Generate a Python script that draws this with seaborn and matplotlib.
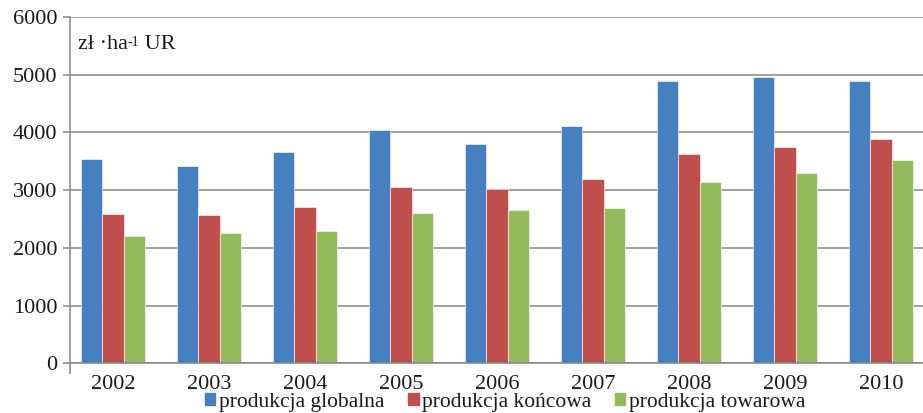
import matplotlib
matplotlib.use("Agg")
import matplotlib.pyplot as plt
import seaborn as sns
import pandas as pd

years = ["2002", "2003", "2004", "2005", "2006", "2007", "2008", "2009", "2010"]
globalna = [3540, 3420, 3670, 4050, 3800, 4110, 4890, 4960, 4890]
koncowa = [2590, 2570, 2710, 3060, 3020, 3190, 3620, 3745, 3880]
towarowa = [2210, 2260, 2300, 2610, 2660, 2690, 3140, 3290, 3525]
series_names = ["produkcja globalna", "produkcja końcowa", "produkcja towarowa"]
yticks = [0, 1000, 2000, 3000, 4000, 5000, 6000]

sns.set_theme(style="white")
plt.rcParams["font.family"] = ["Liberation Serif", "DejaVu Serif"]

df = pd.DataFrame({
    "rok": years * 3,
    "wartosc": globalna + koncowa + towarowa,
    "seria": [s for s in series_names for _ in years],
})

palette = {series_names[0]: "#4780C0", series_names[1]: "#BE4F4C", series_names[2]: "#92BC5C"}
text_col = "#1a1a1a"
grid_col = "#858585"

fig = plt.figure(figsize=(9.23, 4.13), dpi=100)
ax = fig.add_axes([0.0758, 0.12, 0.9242, 0.8388])

sns.barplot(data=df, x="rok", y="wartosc", hue="seria", order=years,
            hue_order=series_names, palette=palette, width=0.667, gap=0,
            saturation=1, edgecolor="white", linewidth=0.4, ax=ax, zorder=3)

ax.set_xlim(-0.448, 8.437)
ax.set_ylim(0, 6000)
ax.set_yticks(yticks)
ax.set_yticklabels([str(v) for v in yticks])
ax.set_xlabel("")
ax.set_ylabel("")

ax.yaxis.grid(True, color=grid_col, linewidth=1.1, zorder=0)
ax.set_axisbelow(True)
for side in ["top", "right", "bottom"]:
    ax.spines[side].set_visible(False)
ax.spines["left"].set_color(grid_col)
ax.spines["left"].set_linewidth(1.1)
ax.axhline(0, color=grid_col, linewidth=1.1, zorder=4, clip_on=False)

ax.tick_params(axis="y", left=True, length=5, width=1.1, color=grid_col,
               labelsize=16, pad=4, labelcolor=text_col)
ax.tick_params(axis="x", bottom=False, labelsize=16, pad=2, labelcolor=text_col)
ax.set_xticks([-0.448], minor=True)
ax.tick_params(axis="x", which="minor", bottom=True, length=8, width=1.1,
               color=grid_col, direction="out")

# unit label with a small raised exponent
t1 = ax.text(0.009, 0.922, "zł ·ha", transform=ax.transAxes, fontsize=16,
             color=text_col, va="center", ha="left")
t2 = ax.annotate("-1", xy=(1, 0.93), xycoords=t1, fontsize=10, color=text_col,
                 va="top", ha="left")
t3 = ax.annotate(" UR", xy=(1, 0), xycoords=(t2, t1), fontsize=16, color=text_col,
                 va="bottom", ha="left")

ax.get_legend().remove()
handles = [plt.Rectangle((0, 0), 1, 1, color=palette[s]) for s in series_names]
fig.legend(handles, series_names, loc="center", bbox_to_anchor=(0.547, 0.026),
           ncol=3, frameon=False, fontsize=15.5, handlelength=0.5, handleheight=0.5,
           handletextpad=0.15, columnspacing=1.1, labelcolor=text_col,
           borderpad=0.1)

fig.savefig("out.png", dpi=100)
